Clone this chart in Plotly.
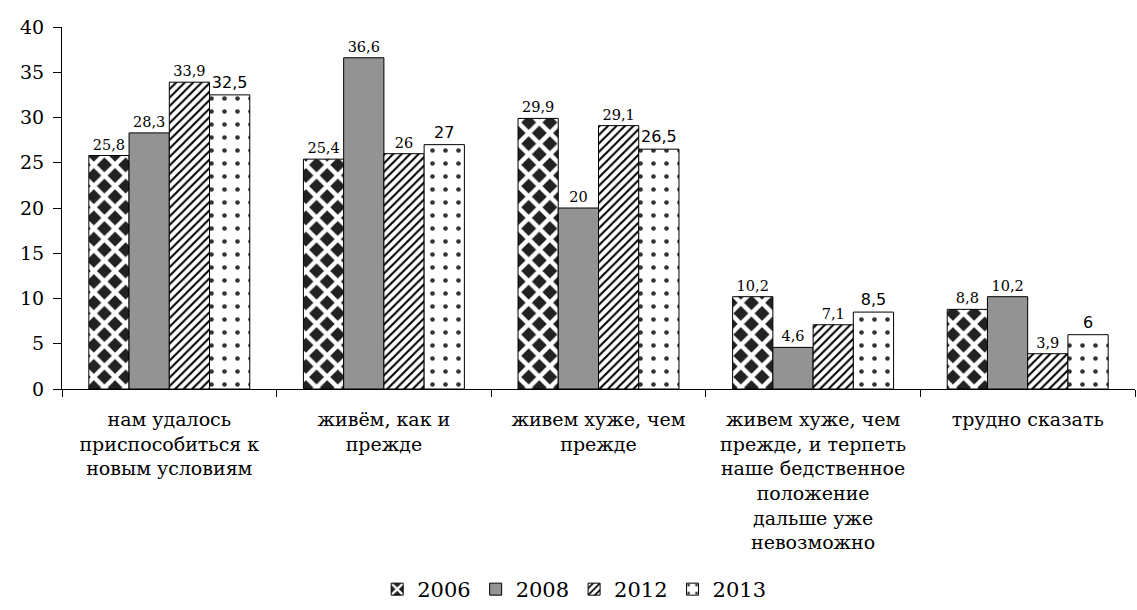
import plotly.graph_objects as go

categories = [
    "нам удалось<br>приспособиться к<br>новым условиям",
    "живём, как и<br>прежде",
    "живем хуже, чем<br>прежде",
    "живем хуже, чем<br>прежде, и терпеть<br>наше бедственное<br>положение<br>дальше уже<br>невозможно",
    "трудно сказать",
]
years = ["2006", "2008", "2012", "2013"]
v2006 = [25.8, 25.4, 29.9, 10.2, 8.8]
v2008 = [28.3, 36.6, 20.0, 4.6, 10.2]
v2012 = [33.9, 26.0, 29.1, 7.1, 3.9]
v2013 = [32.5, 27.0, 26.5, 8.5, 6.0]
y_ticks = [0, 5, 10, 15, 20, 25, 30, 35, 40]

serif = "DejaVu Serif"
sans = "DejaVu Sans"


def fmt(v):
    s = f"{v:.1f}".rstrip("0").rstrip(".")
    return s.replace(".", ",")


styles = {
    "2006": dict(marker=dict(color="black", line=dict(color="black", width=1),
                             pattern=dict(shape="x", fgcolor="white", bgcolor="#222222",
                                          fgopacity=1, size=15, solidity=0.5)),
                 font=dict(family=serif, size=14.5, color="black")),
    "2008": dict(marker=dict(color="#939393", line=dict(color="black", width=1)),
                 font=dict(family=serif, size=14.5, color="black")),
    "2012": dict(marker=dict(color="white", line=dict(color="black", width=1),
                             pattern=dict(shape="/", fgcolor="black", bgcolor="white",
                                          fgopacity=1, size=6, solidity=0.35)),
                 font=dict(family=serif, size=14.5, color="black")),
    "2013": dict(marker=dict(color="white", line=dict(color="black", width=1),
                             pattern=dict(shape=".", fgcolor="#333333", bgcolor="white",
                                          fgopacity=1, size=13, solidity=0.1)),
                 font=dict(family=sans, size=16, color="black")),
}

fig = go.Figure()
for year, vals in zip(years, [v2006, v2008, v2012, v2013]):
    st = styles[year]
    fig.add_trace(go.Bar(
        name=year, x=categories, y=vals,
        text=[fmt(v) for v in vals], textposition="outside",
        textfont=st["font"], cliponaxis=False,
        marker=st["marker"],
    ))

fig.update_layout(
    template="none",
    width=1137, height=610,
    margin=dict(l=62, r=2, t=27, b=221, autoexpand=False),
    paper_bgcolor="white", plot_bgcolor="white",
    barmode="group", bargap=0.25, bargroupgap=0,
    font=dict(family=serif, size=16, color="black"),
    showlegend=True,
    legend=dict(orientation="h", x=0.505, xanchor="center", xref="container",
                y=-0.012, yanchor="bottom", yref="container",
                font=dict(family=serif, size=21), itemwidth=30,
                traceorder="normal"),
)
fig.layout.xaxis = dict(
    showgrid=False, showline=True, linecolor="black", linewidth=1,
    ticks="outside", ticklen=7, tickcolor="black", tickson="boundaries",
    tickfont=dict(family=serif, size=19, color="black"), tickangle=0,
    ticklabelstandoff=13, automargin=False,
)
fig.layout.yaxis = dict(
    range=[0, 40], tickvals=y_ticks, showgrid=False, zeroline=False,
    showline=True, linecolor="black", linewidth=1,
    ticks="outside", ticklen=8, tickcolor="black",
    tickfont=dict(family=serif, size=19, color="black"), ticklabelstandoff=5,
    automargin=False,
)

fig.write_html("out.html")
